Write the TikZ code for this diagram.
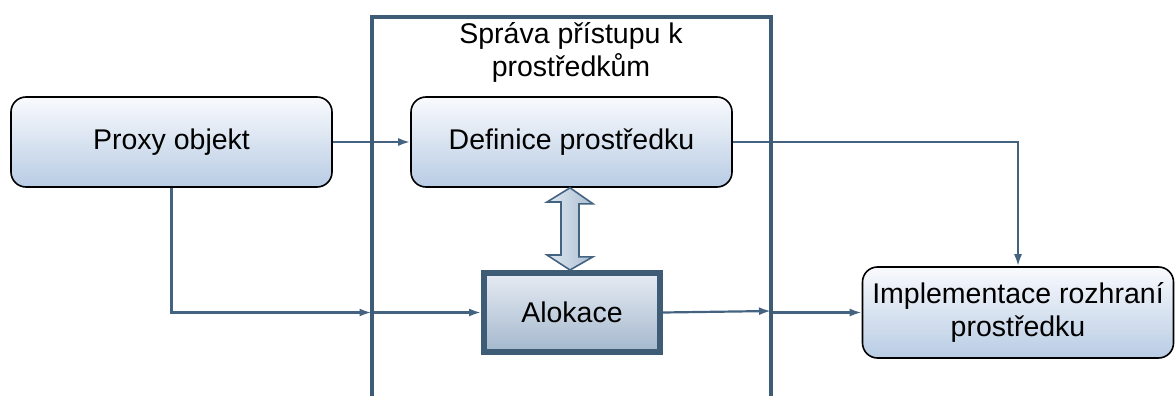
\documentclass[tikz,border=0pt]{standalone}
\usepackage{fontspec}
\setmainfont{Liberation Sans}
\usetikzlibrary{arrows.meta,calc}

\definecolor{frameblue}{RGB}{63,92,118}
\definecolor{linkblue}{RGB}{68,99,128}
\definecolor{boxtop}{RGB}{249,250,253}
\definecolor{boxbottom}{RGB}{184,204,228}
\definecolor{alotop}{RGB}{230,235,243}
\definecolor{alobottom}{RGB}{164,184,205}
\definecolor{dblleft}{RGB}{225,232,241}
\definecolor{dblright}{RGB}{170,190,210}

\newcommand{\labelfont}{\fontsize{28.5}{33}\selectfont}

\begin{document}
\begin{tikzpicture}[x=1pt,y=-1pt,
  roundbox/.style={draw=black, line width=1.6pt, rounded corners=15pt,
    top color=boxtop, bottom color=boxbottom, align=center,
    font=\labelfont, inner sep=0pt},
  alobox/.style={draw=frameblue, line width=6pt,
    top color=alotop, bottom color=alobottom, align=center,
    font=\labelfont, inner sep=0pt},
  link/.style={draw=linkblue, line width=2.2pt,
    -{Latex[length=12pt,width=8pt]}},
  framepath/.style={draw=frameblue, line width=4pt},
  dblarrow/.style={draw=linkblue, line width=1.6pt, line join=miter,
    left color=dblleft, right color=dblright}
]
\useasboundingbox (0,0) rectangle (1175,396);

% boxes
\node[roundbox, minimum width=321pt, minimum height=90pt] (proxy) at (171.5,142) {Proxy objekt};
\node[roundbox, minimum width=321pt, minimum height=90pt] (def) at (571.5,142) {Definice prostředku};
\node[alobox, minimum width=176pt, minimum height=79pt] (alo) at (572,312.5) {Alokace};
\node[roundbox, minimum width=311pt, minimum height=91pt] (impl) at (1018,312.5) {Implementace rozhraní\\prostředku};

% points where connectors meet the container
\coordinate (inL) at (371.5,312.5);
\coordinate (inR) at (771,311);

% connectors
\draw[link] (proxy.east) -- (def.west);
\draw[link] (proxy.south) |- (inL);
\draw[link] (inL) -- (alo.west);
\draw[link] (alo.east) -- (inR);
\draw[link] (inR |- impl.west) -- (impl.west);
\draw[link] (def.east) -| (impl.north);

% two-headed block arrow between definition and allocation
\path[dblarrow]
  (def.south -| 570,0) -- ++(23,16) -- ++(-14,0) -- ++(0,53) -- ++(14,0)
  -- (alo.north -| 570,0) -- ++(-23,-15) -- ++(14,0) -- ++(0,-53)
  -- ++(-14,0) -- cycle;

% container
\draw[framepath] (371.5,396) -- (371.5,17) -- (771,17) -- (771,396);
\node[font=\labelfont, align=center, inner sep=0pt] (title) at (571,52)
  {Správa přístupu k\\prostředkům};
\end{tikzpicture}
\end{document}
